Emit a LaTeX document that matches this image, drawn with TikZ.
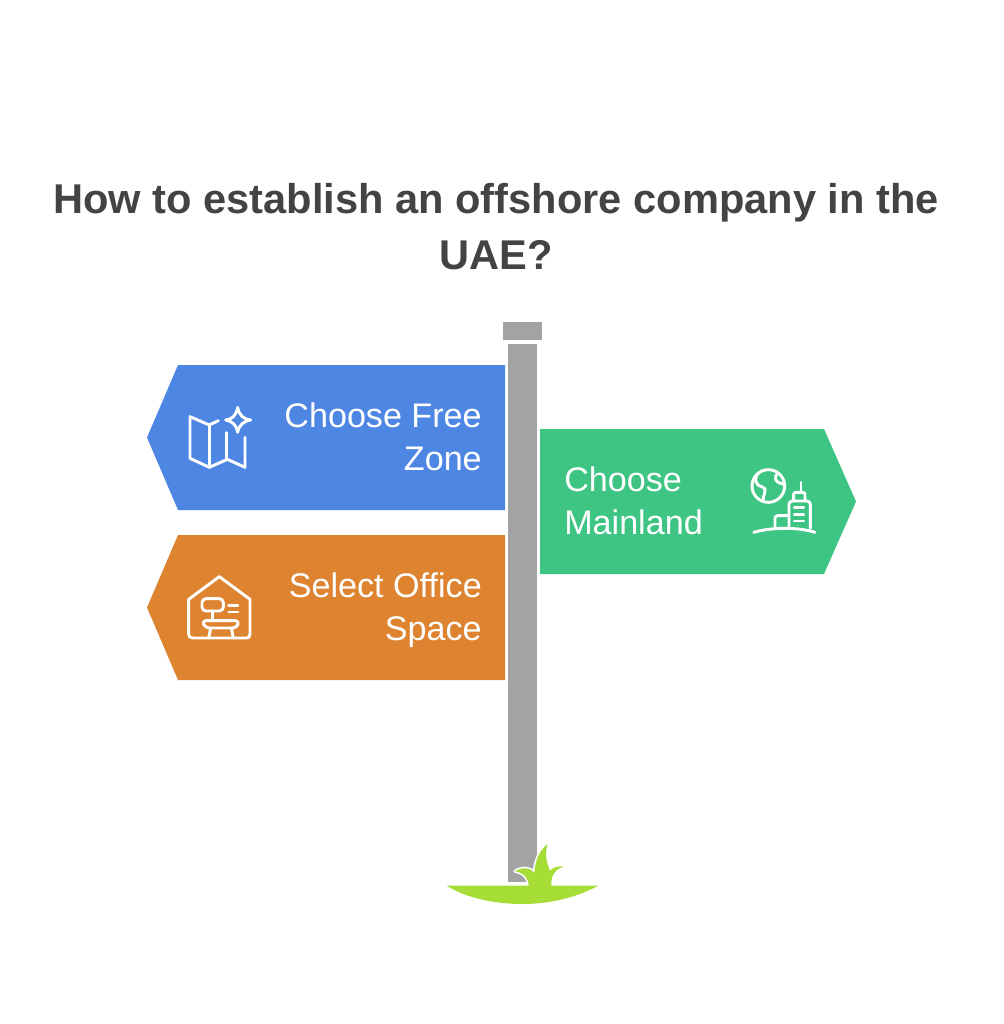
\documentclass[tikz,border=0pt]{standalone}
\usepackage{fontspec}
\setmainfont{Liberation Sans}
\definecolor{cblue}{HTML}{4E86E4}
\definecolor{corange}{HTML}{DE8431}
\definecolor{cgreen}{HTML}{3EC584}
\definecolor{cgray}{HTML}{A3A3A3}
\definecolor{cgrass}{HTML}{A6DE37}
\definecolor{ctitle}{HTML}{434343}
\tikzset{
  signtext/.style={text=white,font=\fontsize{25.6}{32.2}\selectfont,inner sep=0pt,align=#1},
  titletext/.style={text=ctitle,font=\fontsize{31.2}{41.5}\bfseries\selectfont,inner sep=0pt,align=center},
  iconline/.style={draw=white,line width=2.2pt,line cap=round,line join=round},
  zoomed/.style={x=.25pt,y=-.25pt}
}
\def\bladepath{(282,172) .. controls (280,145) and (268,128) .. (240,124) .. controls (262,110) and (285,112) .. (298,128) .. controls (300,90) and (315,60) .. (338,42) .. controls (328,70) and (335,100) .. (345,122) .. controls (355,112) and (368,107) .. (386,110) .. controls (362,118) and (345,135) .. (350,172) -- cycle}
\begin{document}
\begin{tikzpicture}[x=.75pt,y=-.75pt]
\useasboundingbox (0,0) rectangle (1003,1024);
\fill[white] (0,0) rectangle (1003,1024);
\node[titletext] (title) at (496,226.5) {How to establish an offshore company in the\\UAE?};
% pole
\fill[cgray] (503,322) rectangle (542,340);
\fill[cgray] (508,344) rectangle (537,882);
% signs
\fill[cblue] (178,365) -- (505,365) -- (505,510) -- (178,510) -- (147,437.5) -- cycle;
\fill[corange] (178,535) -- (505,535) -- (505,680) -- (178,680) -- (147,607.5) -- cycle;
\fill[cgreen] (540,429) -- (824,429) -- (856,501.5) -- (824,574) -- (540,574) -- cycle;
\node[signtext=right,anchor=east] (free) at (482,440.5) {\strut Choose Free\\Zone\strut};
\node[signtext=right,anchor=east] (office) at (482,610.5) {\strut Select Office\\Space\strut};
\node[signtext=left,anchor=west] (main) at (564,504.5) {\strut Choose\\Mainland\strut};
% map icon
\begin{scope}[shift={(170,390)},zoomed]
\draw[iconline] (145,92) -- (118,105) -- (60,80) -- (60,205) -- (118,232) -- (172,208) -- (225,232) -- (225,142);
\draw[iconline] (118,105) -- (118,232);
\draw[iconline] (170,128) -- (170,208);
\draw[iconline] (203,52) .. controls (207,75) and (220,88) .. (242,90) .. controls (220,94) and (207,105) .. (203,127) .. controls (199,105) and (188,94) .. (167,90) .. controls (188,88) and (199,75) .. cycle;
\end{scope}
% office icon
\begin{scope}[shift={(170,560)},zoomed]
\draw[iconline] (148,50) -- (240,118) -- (240,222) .. controls (240,230) and (236,234) .. (230,234) -- (68,234) .. controls (60,234) and (56,230) .. (56,222) -- (56,118) -- cycle;
\draw[iconline,rounded corners=3pt] (96,116) rectangle (160,153);
\draw[iconline] (128,153) -- (128,182);
\draw[iconline] (176,136) -- (204,136);
\draw[iconline] (176,156) -- (204,156);
\draw[iconline,rounded corners=3pt] (96,182) -- (208,182) -- (200,204) -- (106,204) -- cycle;
\draw[iconline] (122,204) -- (116,234);
\draw[iconline] (184,204) -- (190,234);
\end{scope}
% globe and towers icon
\begin{scope}[shift={(735,455)},zoomed]
\draw[iconline] (100,93) circle (49);
\draw[iconline] (72,52) .. controls (54,72) and (62,92) .. (82,96) .. controls (100,100) and (84,118) .. (84,136);
\draw[iconline] (128,54) .. controls (116,68) and (122,80) .. (134,84) -- (146,88);
\draw[iconline] (56,232) .. controls (110,216) and (190,216) .. (240,232);
\draw[iconline,rounded corners=2pt] (120,216) -- (120,182) -- (162,182);
\draw[iconline,rounded corners=2.5pt] (162,216) -- (162,138) -- (226,138) -- (226,220);
\draw[iconline,rounded corners=1.5pt] (176,138) -- (176,112) -- (210,112) -- (210,138);
\draw[iconline] (198,112) -- (198,82);
\draw[iconline] (178,158) -- (206,158);
\draw[iconline] (178,178) -- (206,178);
\draw[iconline] (178,198) -- (206,198);
\end{scope}
% grass
\begin{scope}[shift={(435,830)},zoomed]
\path[draw=white,line width=2.4pt,line join=round] \bladepath;
\fill[cgrass] (35,167) -- (490,167) .. controls (420,205) and (340,222) .. (262,222) .. controls (180,222) and (95,205) .. cycle;
\fill[cgrass] \bladepath;
\end{scope}
\end{tikzpicture}
\end{document}
